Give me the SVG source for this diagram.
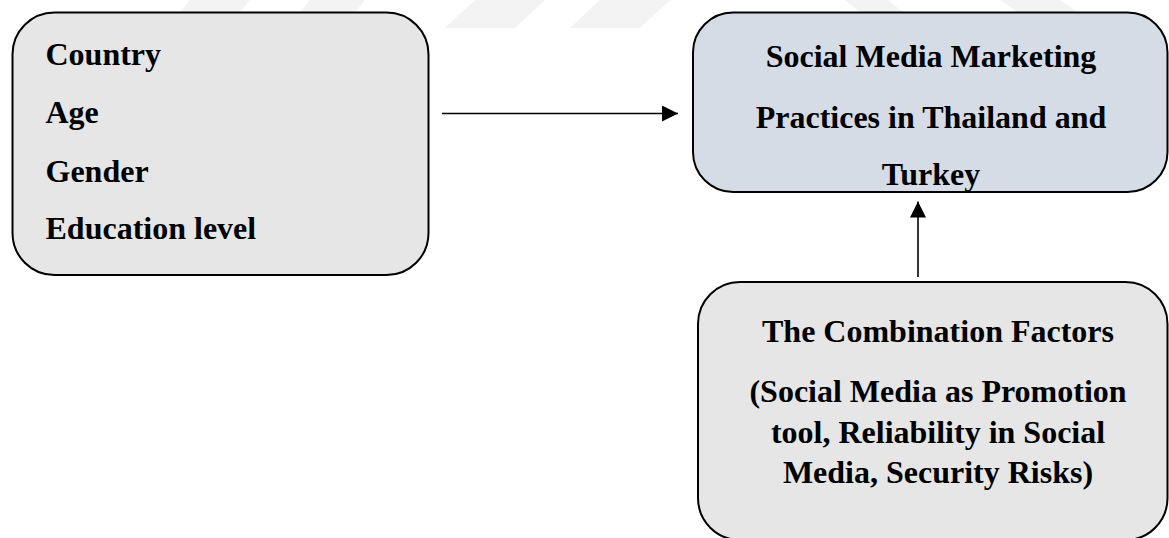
<svg xmlns="http://www.w3.org/2000/svg" width="1169" height="538" viewBox="0 0 1169 538">
  <defs>
    <style>
      .box { stroke: #000; stroke-width: 2; }
      .grey { fill: #e6e6e6; }
      .blue { fill: #d6dce5; }
      .t { font-family: "Liberation Serif", "Times New Roman", serif; font-weight: bold; font-size: 32px; fill: #000; }
      .c { text-anchor: middle; }
      .wm { fill: #f3f3f3; }
      .conn { stroke: #000; stroke-width: 1.6; fill: none; }
    </style>
    <marker id="arrow" viewBox="0 0 16 16" refX="16" refY="8" markerWidth="16" markerHeight="16" markerUnits="userSpaceOnUse" orient="auto">
      <path d="M0,0 L16,8 L0,16 Z" fill="#000"/>
    </marker>
  </defs>
  <rect width="1169" height="538" fill="#fff"/>
  <g id="watermark">
    <polygon class="wm" points="190,0 250,0 225,30 165,30"/>
    <polygon class="wm" points="310,0 365,0 340,30 285,30"/>
    <polygon class="wm" points="475,0 545,0 515,28 445,28"/>
    <polygon class="wm" points="600,0 670,0 640,28 570,28"/>
    <polygon class="wm" points="845,0 888,0 905,14 862,14"/>
    <polygon class="wm" points="1000,0 1060,0 1080,14 1020,14"/>
  </g>
  <g id="connectors">
    <line class="conn" x1="442" y1="113.5" x2="678" y2="113.5" marker-end="url(#arrow)"/>
    <line class="conn" x1="918" y1="277" x2="918" y2="201.5" marker-end="url(#arrow)"/>
  </g>
  <g id="demographics">
    <rect class="box grey" x="12.5" y="12.5" width="416" height="262.5" rx="42" ry="42"/>
    <text class="t" x="45.5" y="65">Country</text>
    <text class="t" x="45.5" y="123">Age</text>
    <text class="t" x="45.5" y="181.5">Gender</text>
    <text class="t" x="45.5" y="239">Education level</text>
  </g>
  <g id="smm">
    <rect class="box blue" x="693" y="12.5" width="474.5" height="179.5" rx="40" ry="40"/>
    <text class="t c" x="931" y="66.5">Social Media Marketing</text>
    <text class="t c" x="931" y="127.5">Practices in Thailand and</text>
    <text class="t c" x="931" y="185">Turkey</text>
  </g>
  <g id="factors">
    <rect class="box grey" x="698" y="282" width="469.5" height="258" rx="42" ry="42"/>
    <text class="t c" x="938" y="341.5">The Combination Factors</text>
    <text class="t c" x="938" y="401.5">(Social Media as Promotion</text>
    <text class="t c" x="938" y="442.5">tool, Reliability in Social</text>
    <text class="t c" x="938" y="483">Media, Security Risks)</text>
  </g>
</svg>
